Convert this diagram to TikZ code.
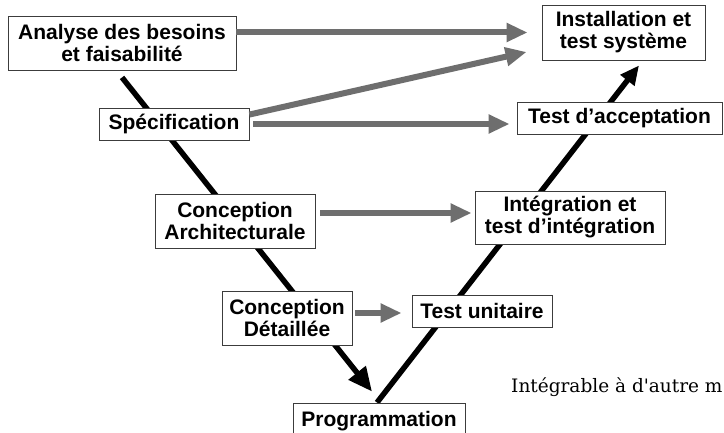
\documentclass[tikz,border=0pt]{standalone}
\usepackage{fontspec}
\setmainfont{Liberation Sans}
\newfontfamily\notefont{DejaVu Serif}
\usetikzlibrary{arrows.meta,backgrounds}
\definecolor{feedgray}{RGB}{110,110,110}
\definecolor{boxline}{RGB}{60,60,60}

\begin{document}
\begin{tikzpicture}[x=1pt,y=-1pt,
        phase/.style={draw=boxline, line width=0.9pt, fill=white, align=center, inner sep=0pt,
            font=\bfseries\fontsize{21}{22}\selectfont},
        feed/.style={draw=feedgray, line width=6pt, -{Triangle[length=21pt,width=18pt]}},
        vleg/.style={draw=black, line width=5.5pt}]
        \useasboundingbox (0,0) rectangle (724,433);
        \node[phase, minimum width=228pt, minimum height=54pt] (analyse) at (122,43) {Analyse des besoins\\et faisabilité};
        \node[phase, minimum width=150pt, minimum height=32pt] (spec) at (174,124) {Spécification};
        \node[phase, minimum width=160pt, minimum height=54pt] (archi) at (235,221) {Conception\\Architecturale};
        \node[phase, minimum width=130pt, minimum height=54pt] (detail) at (287,318) {Conception\\Détaillée};
        \node[phase, minimum width=172pt, minimum height=36pt] (prog) at (379,421) {Programmation};
        \node[phase, minimum width=140pt, minimum height=32pt] (unit) at (482,311) {Test unitaire};
        \node[phase, minimum width=190pt, minimum height=53pt] (integ) at (570,217.5) {Intégration et\\test d'intégration};
        \node[phase, minimum width=205pt, minimum height=32pt] (accept) at (619.5,118) {Test d'acceptation};
        \node[phase, minimum width=163pt, minimum height=55pt] (install) at (623.5,32.5) {Installation et\\test système};
        \node[anchor=base west, inner sep=0pt, font=\notefont\fontsize{18.5}{19}\selectfont] (note) at (511,392) {Intégrable à d'autre m};

        \begin{scope}[on background layer]
            \fill[white] (0,0) rectangle (724,433);
            \draw[vleg, -{Triangle[length=24pt,width=21pt]}] ([yshift=-7pt]analyse.south) -- ([shift={(-7pt,11pt)}]prog.north);
            \draw[vleg, -{Triangle[length=19pt,width=17pt]}] ([xshift=-2pt]prog.north) -- ([shift={(15.5pt,-5pt)}]install.south);
        \end{scope}

        \draw[feed] ([yshift=10.5pt]analyse.east) -- ([xshift=-14pt]install.west);
        \draw[feed] ([yshift=-7pt]spec.north east) -- ([shift={(-15pt,-19.5pt)}]install.west);
        \draw[feed] ([xshift=4pt]spec.east) -- ([shift={(-7pt,-6pt)}]accept.west);
        \draw[feed] ([shift={(5pt,8pt)}]archi.east) -- ([shift={(-3pt,4.5pt)}]integ.west);
        \draw[feed] ([shift={(3pt,5pt)}]detail.east) -- ([shift={(-10pt,-2pt)}]unit.west);
\end{tikzpicture}
\end{document}
